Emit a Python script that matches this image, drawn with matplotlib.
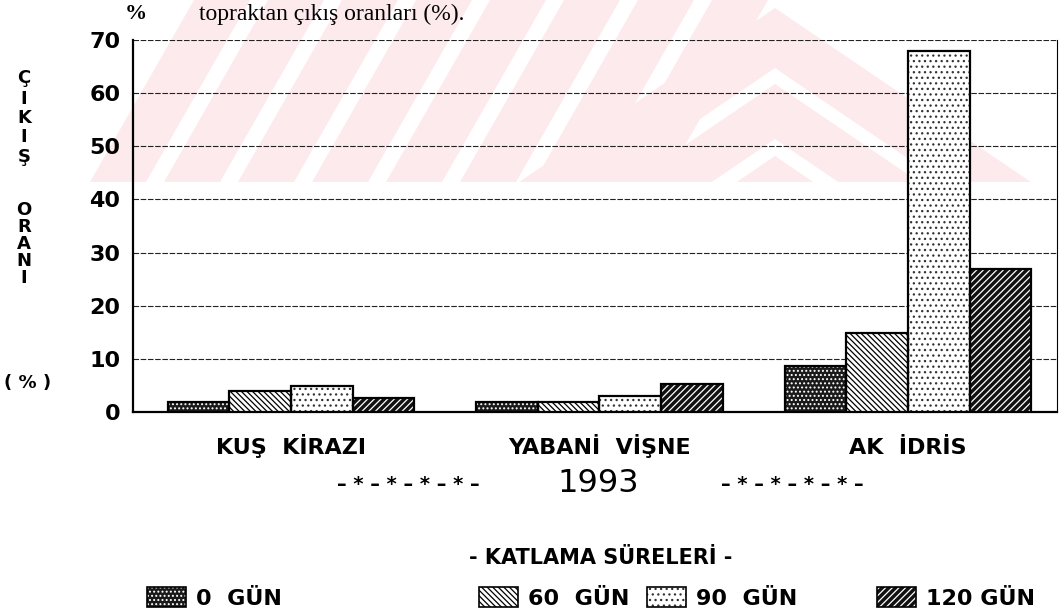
import matplotlib
matplotlib.use("Agg")
import matplotlib.pyplot as plt
import numpy as np
from matplotlib.patches import Polygon, Patch

# ---------------- data ----------------
categories = ["KUŞ  KİRAZI", "YABANİ  VİŞNE", "AK  İDRİS"]
series_labels = ["0  GÜN", "60  GÜN", "90  GÜN", "120 GÜN"]
gun_0 = [1.9, 1.9, 8.7]
gun_60 = [4.0, 1.8, 14.8]
gun_90 = [4.9, 3.0, 68.0]
gun_120 = [2.6, 5.2, 27.0]
y_ticks = [0, 10, 20, 30, 40, 50, 60, 70]

W, H = 1059, 614
fig = plt.figure(figsize=(W / 100, H / 100), dpi=100)
fig.patch.set_facecolor("white")

def fp(x, y):
    return (x / W, 1 - y / H)

# ---------------- faint watermark ----------------
wm = "#fdeaed"
polys = []
for k in range(8):
    x0 = 90 + k * 74
    polys.append([(x0, 182), (x0 + 56, 182), (x0 + 56 + 104, 0), (x0 + 104, 0)])

def chevron(apex_y, thick, slope=1.47, cx=775, bottom=182):
    ho = (bottom - apex_y) * slope
    hi_apex = apex_y + thick
    if hi_apex >= bottom:
        return [(cx - ho, bottom), (cx, apex_y), (cx + ho, bottom)]
    hi = (bottom - hi_apex) * slope
    return [(cx - ho, bottom), (cx, apex_y), (cx + ho, bottom),
            (cx + hi, bottom), (cx, hi_apex), (cx - hi, bottom)]
polys.append(chevron(8, 60))
polys.append(chevron(84, 55))
polys.append(chevron(156, 40))
for p in polys:
    fig.patches.append(Polygon([fp(x, y) for x, y in p], closed=True,
                               transform=fig.transFigure, facecolor=wm,
                               edgecolor="none", zorder=-5))

# ---------------- axes ----------------
ax = fig.add_axes([133 / W, 1 - 412 / H, (1057 - 133) / W, (412 - 40) / H])
ax.set_facecolor("none")

x = np.arange(len(categories))
bw = 0.2
offsets = [-0.3, -0.1, 0.1, 0.3]
series = [gun_0, gun_60, gun_90, gun_120]
styles = [
    dict(facecolor="#1a1a1a", hatchcolor="white", hatch="...."),
    dict(facecolor="white", hatchcolor="black", hatch="\\\\\\\\\\\\"),
    dict(facecolor="white", hatchcolor="#333333", hatch="..."),
    dict(facecolor="#111111", hatchcolor="white", hatch="/////"),
]
plt.rcParams["hatch.linewidth"] = 0.9

for vals, off, st in zip(series, offsets, styles):
    ax.bar(x + off, vals, bw, facecolor=st["facecolor"], edgecolor=st["hatchcolor"],
           hatch=st["hatch"], linewidth=0, zorder=3)
    ax.bar(x + off, vals, bw, fill=False, edgecolor="black", linewidth=1.6, zorder=4)

ax.set_xlim(-0.512, 2.483)
ax.set_ylim(0, 70)
ax.set_yticks(y_ticks)
ax.set_xticks(x)
ax.set_xticklabels(categories, va="baseline")
ax.tick_params(axis="y", length=0, pad=9, labelsize=16)
ax.tick_params(axis="x", length=0, pad=30, labelsize=16)
for lab in ax.get_yticklabels() + ax.get_xticklabels():
    lab.set_fontweight("bold")

ax.yaxis.grid(True, linestyle=(0, (5, 1.5)), color="#222222", linewidth=0.8, zorder=1)
ax.set_axisbelow(True)
ax.spines["top"].set_visible(False)
ax.spines["right"].set_linewidth(0.8)
ax.spines["left"].set_linewidth(1.6)
ax.spines["bottom"].set_linewidth(1.6)

# ---------------- texts ----------------
fig.text(*fp(136, 14), "%", ha="center", va="center", fontsize=16,
         family="Liberation Serif", fontweight="bold")
fig.text(*fp(199, 14), "topraktan çıkış oranları (%).", ha="left", va="center",
         fontsize=17, family="Liberation Serif")

ylabel_letters = [("Ç", 78), ("I", 99), ("K", 118), ("I", 137), ("Ş", 157),
                  ("O", 210), ("R", 227), ("A", 244), ("N", 261), ("I", 278)]
for ch, yy in ylabel_letters:
    fig.text(*fp(24, yy), ch, ha="center", va="center", fontsize=13, fontweight="bold")
fig.text(*fp(28, 383), "( % )", ha="center", va="center", fontsize=13, fontweight="bold")

fig.text(*fp(598, 484), "1993", ha="center", va="center", fontsize=23)
fig.text(*fp(408, 484), "– * – * – * – * –", ha="center", va="center", fontsize=14, fontweight="bold")
fig.text(*fp(792, 484), "– * – * – * – * –", ha="center", va="center", fontsize=14, fontweight="bold")
fig.text(*fp(601, 558), "- KATLAMA SÜRELERİ -", ha="center", va="center",
         fontsize=15, fontweight="bold")

# ---------------- legend ----------------
leg_x = [147, 479, 647, 877]
for lab, st, lx in zip(series_labels, styles, leg_x):
    h = (Patch(facecolor=st["facecolor"], edgecolor=st["hatchcolor"], hatch=st["hatch"], linewidth=0),
         Patch(fill=False, edgecolor="black", linewidth=1.2))
    fig.legend(handles=[h], labels=[lab], loc="center left",
               bbox_to_anchor=fp(lx, 598), bbox_transform=fig.transFigure,
               frameon=False, handlelength=1.75, handleheight=0.95,
               handletextpad=0.45, borderpad=0, borderaxespad=0,
               prop=dict(size=16, weight="bold"))

fig.savefig("out.png", dpi=100)
